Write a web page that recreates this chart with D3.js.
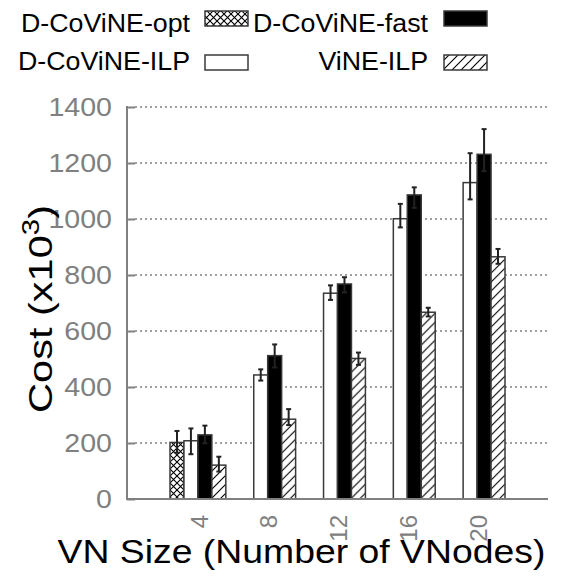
<!DOCTYPE html>
<html>
<head>
<meta charset="utf-8">
<script src="https://cdn.jsdelivr.net/npm/d3@7"></script>
<style>
  body { margin: 0; background: #fff; }
  svg { font-family: "Liberation Sans", Arial, Helvetica, sans-serif; }
</style>
</head>
<body>
<svg id="chart" width="572" height="585"></svg>
<script>
// values (cost in thousands)
var sizes = [4, 8, 12, 16, 20];
var seriesNames = ["D-CoViNE-opt", "D-CoViNE-ILP", "D-CoViNE-fast", "ViNE-ILP"];
var optCost  = [202, 0, 0, 0, 0];
var optLo    = [165, 0, 0, 0, 0];
var optHi    = [243, 0, 0, 0, 0];
var ilpCost  = [208, 443, 735, 1001, 1130];
var ilpLo    = [160, 423, 711, 970, 1070];
var ilpHi    = [252, 463, 763, 1054, 1235];
var fastCost = [229, 512, 768, 1086, 1231];
var fastLo   = [199, 470, 738, 1040, 1171];
var fastHi   = [262, 552, 792, 1113, 1321];
var vineCost = [121, 285, 502, 667, 865];
var vineLo   = [98, 264, 479, 652, 840];
var vineHi   = [151, 321, 523, 683, 893];
var yTicks = [0, 200, 400, 600, 800, 1000, 1200, 1400];

var costs = [optCost, ilpCost, fastCost, vineCost];
var lows = [optLo, ilpLo, fastLo, vineLo];
var highs = [optHi, ilpHi, fastHi, vineHi];
var fills = ["url(#cross)", "#fff", "#000", "url(#hatch)"];

var svg = d3.select("#chart");
var axisColor = "#808080";

// patterns
var defs = svg.append("defs");
var cross = defs.append("pattern").attr("id", "cross")
    .attr("patternUnits", "userSpaceOnUse").attr("width", 7).attr("height", 7);
cross.append("rect").attr("width", 7).attr("height", 7).attr("fill", "#fff");
cross.append("path").attr("d", "M0,0L7,7M7,0L0,7")
    .attr("stroke", "#000").attr("stroke-width", 1.1);
var hatch = defs.append("pattern").attr("id", "hatch")
    .attr("patternUnits", "userSpaceOnUse").attr("width", 9).attr("height", 9);
hatch.append("rect").attr("width", 9).attr("height", 9).attr("fill", "#fff");
hatch.append("path").attr("d", "M0,9L9,0M-2,2L2,-2M7,11L11,7")
    .attr("stroke", "#000").attr("stroke-width", 1.1);

var x = d3.scaleBand().domain(sizes).range([127, 548]).paddingInner(0.2).paddingOuter(0.616);
var xs = d3.scaleBand().domain(d3.range(4)).range([0, x.bandwidth()]);
var y = d3.scaleLinear().domain([0, 1400]).range([499, 107]);

// grid lines
svg.append("g").selectAll("line").data(yTicks.filter(d => d > 0)).enter().append("line")
    .attr("x1", 135).attr("x2", 548)
    .attr("y1", d => y(d)).attr("y2", d => y(d))
    .attr("stroke", axisColor).attr("stroke-width", 1.5)
    .attr("stroke-dasharray", "2,3");

// y axis
var yAxis = svg.append("g")
    .attr("transform", "translate(127,0)")
    .call(d3.axisRight(y).tickValues(yTicks).tickSize(8).tickFormat(""));
yAxis.select(".domain").remove();
yAxis.selectAll("line").attr("stroke", axisColor).attr("stroke-width", 2);
svg.append("line").attr("x1", 127).attr("x2", 127).attr("y1", y(1400) - 1).attr("y2", y(0) + 1)
    .attr("stroke", axisColor).attr("stroke-width", 2);
svg.append("g").selectAll("text").data(yTicks).enter().append("text")
    .attr("transform", d => "translate(112," + y(d) + ") scale(1.1,1)")
    .attr("dy", "0.36em")
    .attr("text-anchor", "end").attr("font-size", 26).attr("fill", axisColor)
    .text(d => d);

// bars
var groups = svg.append("g").selectAll("g").data(sizes).enter().append("g")
    .attr("transform", d => "translate(" + x(d) + ",0)");
seriesNames.forEach(function (name, s) {
    groups.filter((d, i) => costs[s][i] > 0).append("rect")
        .attr("x", xs(s)).attr("width", xs.bandwidth())
        .attr("y", (d, i) => y(costs[s][sizes.indexOf(d)]))
        .attr("height", d => y(0) - y(costs[s][sizes.indexOf(d)]))
        .attr("fill", fills[s]).attr("stroke", "#3a3a3a").attr("stroke-width", 1.5);
});

// x axis line
svg.append("line").attr("x1", 126).attr("x2", 548).attr("y1", y(0)).attr("y2", y(0))
    .attr("stroke", axisColor).attr("stroke-width", 2);

// error bars
seriesNames.forEach(function (name, s) {
    var eb = groups.append("g").attr("stroke", "#222").attr("stroke-width", 2);
    var cx = xs(s) + xs.bandwidth() / 2;
    eb.append("line").attr("x1", cx).attr("x2", cx)
        .attr("y1", d => y(lows[s][sizes.indexOf(d)]))
        .attr("y2", d => y(highs[s][sizes.indexOf(d)]));
    eb.append("line").attr("x1", cx - 2.5).attr("x2", cx + 2.5)
        .attr("y1", d => y(lows[s][sizes.indexOf(d)]))
        .attr("y2", d => y(lows[s][sizes.indexOf(d)]));
    eb.append("line").attr("x1", cx - 2.5).attr("x2", cx + 2.5)
        .attr("y1", d => y(highs[s][sizes.indexOf(d)]))
        .attr("y2", d => y(highs[s][sizes.indexOf(d)]));
});

// x tick labels (rotated)
svg.append("g").selectAll("text").data(sizes).enter().append("text")
    .attr("transform", d => "translate(" + (x(d) + x.bandwidth() / 2 + 1) + ",515) rotate(-90)")
    .attr("dy", "0.36em").attr("text-anchor", "end")
    .attr("font-size", 24).attr("fill", axisColor)
    .text(d => d);

// axis titles, stretched along the text to the reference's span
var xt = svg.append("text").attr("text-anchor", "middle")
    .attr("font-size", 33).text("VN Size (Number of VNodes)");
var xk = 488 / xt.node().getComputedTextLength();
xt.attr("transform", "translate(301.5,563) scale(" + xk + ",1)");

var yt = svg.append("text").attr("text-anchor", "middle").attr("font-size", 34);
yt.append("tspan").text("Cost (x10");
yt.append("tspan").attr("font-size", 24).attr("dy", -13).text("3");
yt.append("tspan").attr("dy", 13).text(")");
var yk = 208 / yt.node().getBBox().width;
yt.attr("transform", "translate(52,309) rotate(-90) scale(" + yk + ",1)");

// legend
var legendPos = [
    { tx: 190, ty: 32, sx: 205, sy: 11 },
    { tx: 190, ty: 70, sx: 205, sy: 55 },
    { tx: 428, ty: 32, sx: 444, sy: 11 },
    { tx: 428, ty: 70, sx: 444, sy: 55 }
];
seriesNames.forEach(function (name, s) {
    var p = legendPos[s];
    svg.append("text").attr("transform", "translate(" + p.tx + "," + p.ty + ") scale(1.03,1)")
        .attr("text-anchor", "end")
        .attr("font-size", 26).text(name);
    svg.append("rect").attr("x", p.sx).attr("y", p.sy).attr("width", 43).attr("height", 15)
        .attr("fill", fills[s]).attr("stroke", "#3a3a3a").attr("stroke-width", 1.5);
});
</script>
</body>
</html>
